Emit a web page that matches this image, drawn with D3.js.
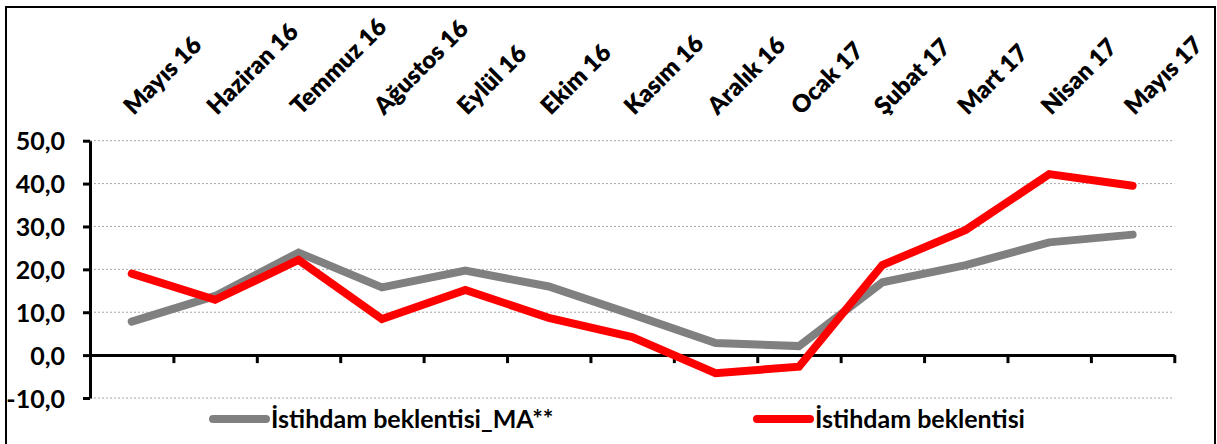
<!DOCTYPE html>
<html>
<head>
<meta charset="utf-8">
<script src="https://cdn.jsdelivr.net/npm/d3@7"></script>
<style>
  body { margin: 0; background: #fff; }
  svg text { font-family: Lato, "Open Sans", sans-serif; font-weight: 700; fill: #000; }
</style>
</head>
<body>
<div id="chart"></div>
<script>
// categories (months)
var months = [
  "Mayıs 16", "Haziran 16", "Temmuz 16", "Ağustos 16", "Eylül 16", "Ekim 16",
  "Kasım 16", "Aralık 16", "Ocak 17", "Şubat 17", "Mart 17", "Nisan 17", "Mayıs 17"
];
// series values
var maValues = [7.8, 13.8, 23.9, 15.8, 19.7, 16.0, 9.5, 2.8, 2.1, 17.0, 21.0, 26.3, 28.1];
var expValues = [19.0, 12.9, 22.2, 8.4, 15.2, 8.7, 4.2, -4.2, -2.7, 21.0, 29.2, 42.2, 39.5];
var yTicks = [-10, 0, 10, 20, 30, 40, 50];
var seriesNames = ["İstihdam beklentisi_MA**", "İstihdam beklentisi"];
var seriesColors = ["#808080", "#ff0000"];

var width = 1217, height = 444;
var plot = { left: 90, right: 1174.3, top: 140.7, bottom: 398 };

var svg = d3.select("#chart").append("svg")
  .attr("width", width)
  .attr("height", height);

// outer frame (bottom edge runs off the picture)
svg.append("rect")
  .attr("x", 6).attr("y", 7)
  .attr("width", 1209).attr("height", 460)
  .attr("fill", "none")
  .attr("stroke", "#000")
  .attr("stroke-width", 2);

var x = d3.scaleBand().domain(months).range([plot.left, plot.right]).padding(0);
var xEdges = d3.scaleLinear().domain([0, months.length]).range([plot.left, plot.right]);
var y = d3.scaleLinear().domain([-10, 50]).range([plot.bottom, plot.top]);

// dotted gridlines
svg.append("g")
  .selectAll("line")
  .data(yTicks.filter(function (d) { return d !== 0; }))
  .enter()
  .append("line")
  .attr("x1", plot.left).attr("x2", plot.right)
  .attr("y1", function (d) { return y(d); })
  .attr("y2", function (d) { return y(d); })
  .attr("stroke", "#a6a6a6")
  .attr("stroke-width", 1)
  .attr("stroke-dasharray", "2,2");

// y axis
var yAxis = svg.append("g")
  .attr("transform", "translate(" + plot.left + ",0)")
  .call(d3.axisLeft(y).tickValues(yTicks).tickSize(7).tickSizeOuter(0).tickPadding(18)
    .tickFormat(function (d) { return d.toFixed(1).replace(".", ","); }));
yAxis.selectAll("path, line").attr("stroke", "#000").attr("stroke-width", 3);
yAxis.selectAll("text").style("font-size", "25px").attr("dy", "0.36em");

// x axis along zero, ticks on category edges
var xAxis = svg.append("g")
  .attr("transform", "translate(0," + y(0) + ")")
  .call(d3.axisBottom(xEdges).ticks(months.length).tickSize(8).tickSizeOuter(0).tickFormat(""));
xAxis.selectAll("path, line").attr("stroke", "#000").attr("stroke-width", 3);
xAxis.select(".tick").remove();

// rotated month labels on top
svg.append("g")
  .selectAll("text")
  .data(months)
  .enter()
  .append("text")
  .attr("transform", function (d) {
    return "translate(" + (x(d) + x.bandwidth() / 2 + 2) + ",116) rotate(-45)";
  })
  .style("font-size", "24px")
  .style("font-weight", 800)
  .text(function (d) { return d; });

// lines
var line = d3.line()
  .x(function (d, i) { return x(months[i]) + x.bandwidth() / 2; })
  .y(function (d) { return y(d); });

[maValues, expValues].forEach(function (vals, k) {
  svg.append("path")
    .datum(vals)
    .attr("d", line)
    .attr("fill", "none")
    .attr("stroke", seriesColors[k])
    .attr("stroke-width", 8)
    .attr("stroke-linejoin", "miter")
    .attr("stroke-linecap", "round");
});

// legend
var legendX = [213, 757];
var legend = svg.append("g")
  .selectAll("g")
  .data(seriesNames)
  .enter()
  .append("g")
  .attr("transform", function (d, i) { return "translate(" + legendX[i] + ",419)"; });

legend.append("line")
  .attr("x1", 0).attr("x2", 53)
  .attr("stroke", function (d, i) { return seriesColors[i]; })
  .attr("stroke-width", 8)
  .attr("stroke-linecap", "round");

legend.append("text")
  .attr("x", 58)
  .attr("dy", "0.36em")
  .style("font-size", "25px")
  .text(function (d) { return d; });
</script>
</body>
</html>
